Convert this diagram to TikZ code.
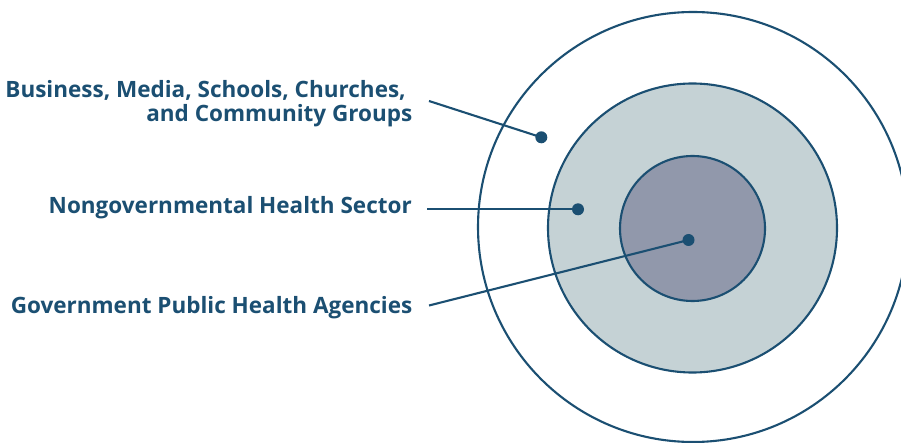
\documentclass[tikz,border=0pt]{standalone}
\usepackage{fontspec}
\setmainfont{Open Sans}
\definecolor{navy}{HTML}{1B4F72}
\definecolor{midfill}{HTML}{C5D2D5}
\definecolor{innerfill}{HTML}{9198AB}
\begin{document}
\begin{tikzpicture}[x=1pt,y=-1pt,
  ring/.style={draw=navy,line width=2.1pt},
  lbl/.style={text=navy,font=\bfseries\fontsize{22.5}{25}\selectfont,inner sep=0pt,align=right},
  dot/.style={circle,fill=navy,minimum size=12pt,inner sep=0pt},
  leader/.style={draw=navy,line width=2.1pt}]
\useasboundingbox (0,0) rectangle (901,443);
% circles
\draw[ring] (693,227) circle (215);
\draw[ring,fill=midfill] (692.5,228) circle (144.5);
\draw[ring,fill=innerfill] (692.5,228.5) circle (72.5);
% dots
\node[dot] (d1) at (541.3,137.3) {};
\node[dot] (d2) at (578,209.3) {};
\node[dot] (d3) at (688.5,240) {};
% labels
\node[lbl,anchor=base east] (l1a) at (406,97.5) {Business, Media, Schools, Churches,};
\node[lbl,anchor=base east] (l1b) at (412.5,122) {and Community Groups};
\node[lbl,anchor=base east] (l2) at (412,213.5) {Nongovernmental Health Sector};
\node[lbl,anchor=base east] (l3) at (412.5,313.5) {Government Public Health Agencies};
% leader start points
\coordinate (s1) at (429,101);
\coordinate (s2) at (427,209.3);
\coordinate (s3) at (429,305.5);
\draw[leader] (s1) -- (d1.center);
\draw[leader] (s2) -- (d2.center);
\draw[leader] (s3) -- (d3.center);
\end{tikzpicture}
\end{document}
